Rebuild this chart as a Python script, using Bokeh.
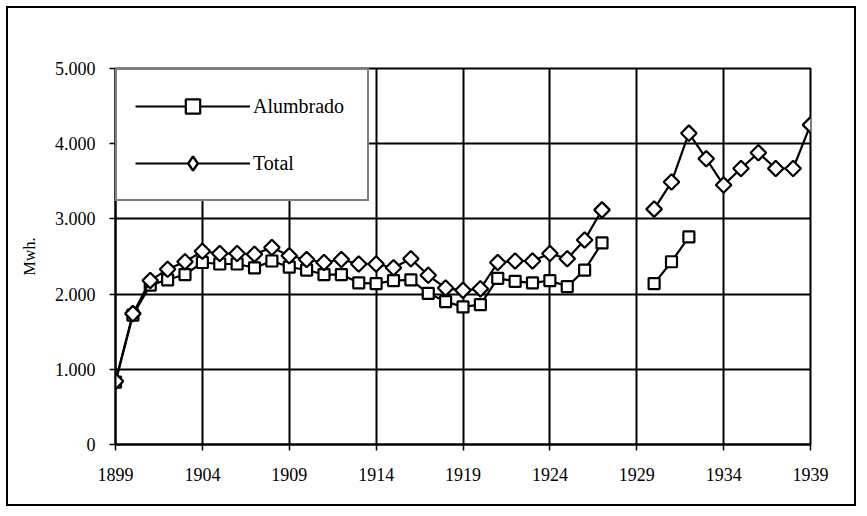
import numpy as np
from bokeh.plotting import figure
from bokeh.models import FixedTicker, Legend, LegendItem
from bokeh.embed import file_html
from bokeh.resources import INLINE

nan = float("nan")

years = list(range(1899, 1940))
alumbrado = [830, 1720, 2120, 2190, 2260, 2420, 2400, 2400, 2350, 2440,
             2360, 2320, 2260, 2260, 2150, 2140, 2180, 2190, 2010, 1900,
             1830, 1860, 2210, 2170, 2150, 2180, 2100, 2320, 2680, nan,
             nan, 2140, 2430, 2760, nan, nan, nan, nan, nan, nan, nan]
total = [840, 1740, 2180, 2330, 2430, 2570, 2540, 2540, 2530, 2620,
         2510, 2460, 2420, 2460, 2400, 2400, 2350, 2470, 2250, 2080,
         2050, 2070, 2420, 2440, 2440, 2540, 2470, 2720, 3120, nan,
         nan, 3130, 3490, 4140, 3800, 3450, 3670, 3880, 3670, 3670, 4250]

x_ticks = [1899, 1904, 1909, 1914, 1919, 1924, 1929, 1934, 1939]
y_ticks = [0, 1000, 2000, 3000, 4000, 5000]
y_tick_labels = ["0", "1.000", "2.000", "3.000", "4.000", "5.000"]

FONT = "Liberation Serif"

p = figure(width=846, height=496, output_backend="svg", toolbar_location=None,
           x_range=(1899, 1939), y_range=(0, 5000),
           frame_width=695, frame_height=376,
           min_border_left=107, min_border_top=60,
           min_border_right=44, min_border_bottom=60)
p.styles = {"border": "2px solid black", "margin-left": "6px", "margin-top": "6px"}
p.background_fill_color = "white"
p.border_fill_color = "white"
p.outline_line_color = "black"
p.outline_line_width = 2

# grid
p.xgrid.ticker = FixedTicker(ticks=x_ticks)
p.ygrid.ticker = FixedTicker(ticks=y_ticks)
for g in (p.xgrid, p.ygrid):
    g.grid_line_color = "black"
    g.grid_line_width = 2
    g.grid_line_alpha = 1.0

# axes
p.xaxis.ticker = FixedTicker(ticks=x_ticks)
p.yaxis.ticker = FixedTicker(ticks=y_ticks)
p.yaxis.major_label_overrides = {t: l for t, l in zip(y_ticks, y_tick_labels)}
for ax in (p.xaxis, p.yaxis):
    ax.axis_line_color = "black"
    ax.axis_line_width = 2
    ax.major_tick_line_color = "black"
    ax.major_tick_line_width = 1.5
    ax.major_tick_in = 0
    ax.major_tick_out = 6
    ax.minor_tick_line_color = None
    ax.major_label_text_font = FONT
    ax.major_label_text_font_size = "18px"
    ax.major_label_text_color = "black"
p.xaxis.major_label_standoff = 17
p.yaxis.major_label_standoff = 14
p.yaxis.axis_label = "Mwh."
p.yaxis.axis_label_text_font = FONT
p.yaxis.axis_label_text_font_size = "16px"
p.yaxis.axis_label_text_font_style = "normal"
p.yaxis.axis_label_text_color = "black"
p.yaxis.axis_label_standoff = 14

x = np.array(years, dtype=float)
ya = np.array(alumbrado, dtype=float)
yt = np.array(total, dtype=float)

la = p.line(x, ya, line_color="black", line_width=2.2)
sa = p.scatter(x, ya, marker="square", size=11, fill_color="white",
               line_color="black", line_width=2.2)
lt = p.line(x, yt, line_color="black", line_width=2.2)
st = p.scatter(x, yt, marker="square", angle=np.pi / 4, size=11,
               fill_color="white", line_color="black", line_width=2.2)
# legend-only diamond glyph (legends do not rotate markers); hidden on the plot
st_leg = p.scatter(x, yt, marker="diamond", size=17, visible=False,
                   fill_color="white", line_color="black", line_width=2.4)

legend = Legend(items=[LegendItem(label="Alumbrado", renderers=[la, sa]),
                       LegendItem(label="Total", renderers=[lt, st_leg])],
                location="top_left", margin=0, padding=18, spacing=21,
                glyph_width=115, glyph_height=36, label_height=36,
                label_width=96, label_standoff=3)
legend.label_text_font = FONT
legend.label_text_font_size = "20px"
legend.label_text_color = "black"
legend.border_line_color = "black"
legend.border_line_width = 2
legend.background_fill_color = "white"
legend.background_fill_alpha = 1.0
legend.inactive_fill_alpha = 0
p.add_layout(legend, "center")

open("out.html", "w").write(file_html(p, INLINE))
